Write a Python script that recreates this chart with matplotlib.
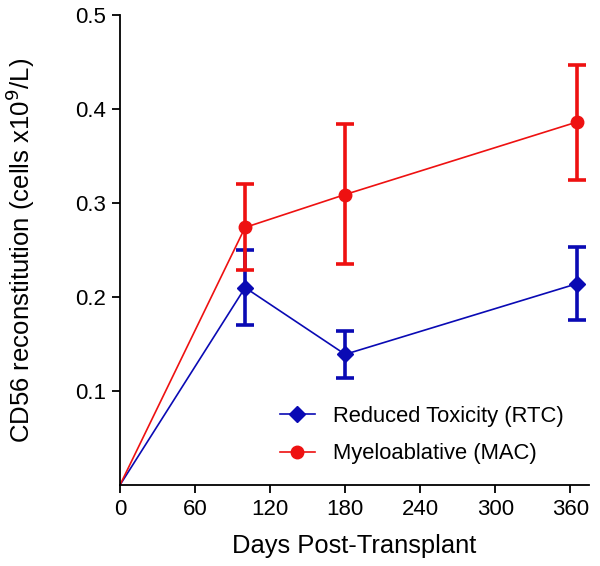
import matplotlib
matplotlib.use("Agg")
import matplotlib.pyplot as plt

days = [0, 100, 180, 365]
rtc_mean = [0.0, 0.210, 0.139, 0.214]
rtc_upper = [0.0, 0.250, 0.164, 0.253]
rtc_lower = [0.0, 0.170, 0.114, 0.176]
mac_mean = [0.0, 0.274, 0.309, 0.386]
mac_upper = [0.0, 0.320, 0.384, 0.447]
mac_lower = [0.0, 0.229, 0.235, 0.325]
xticks = [0, 60, 120, 180, 240, 300, 360]
yticks = [0.1, 0.2, 0.3, 0.4, 0.5]

plt.rcParams['font.family'] = ['Liberation Sans', 'DejaVu Sans']

fig = plt.figure(figsize=(6.0, 5.66), dpi=100)
ax = fig.add_axes([0.2, 0.1431, 0.7817, 0.8304])

blue = '#0a0ab4'
red = '#ee1111'

def plot_series(mean, up, lo, color, marker, ms, label):
    ax.plot(days, mean, color=color, lw=1.2, zorder=2)
    yerr = [[m - l for m, l in zip(mean[1:], lo[1:])], [u - m for m, u in zip(mean[1:], up[1:])]]
    ax.errorbar(days[1:], mean[1:], yerr=yerr, fmt='none', ecolor=color,
                elinewidth=2.6, capsize=6.5, capthick=2.6, zorder=3)
    ax.plot(days[1:], mean[1:], linestyle='none', marker=marker, ms=ms,
            color=color, zorder=4)
    return ax.plot([], [], color=color, lw=1.2, marker=marker, ms=ms, label=label)[0]

h1 = plot_series(rtc_mean, rtc_upper, rtc_lower, blue, 'D', 8, 'Reduced Toxicity (RTC)')
h2 = plot_series(mac_mean, mac_upper, mac_lower, red, 'o', 9, 'Myeloablative (MAC)')

ax.set_xlim(0, 375)
ax.set_ylim(0, 0.5)
ax.set_xticks(xticks)
ax.set_yticks(yticks)
ax.set_yticklabels([f'{t:.1f}' for t in yticks])
for s in ['top', 'right']:
    ax.spines[s].set_visible(False)
for s in ['left', 'bottom']:
    ax.spines[s].set_linewidth(1.3)
ax.tick_params(direction='out', length=6, width=1.3, labelsize=16, pad=4)
ax.set_xlabel('Days Post-Transplant', fontsize=18.4, labelpad=10)
ax.set_ylabel('CD56 reconstitution (cells x10$^{9}$/L)', fontsize=18.5)
ax.yaxis.set_label_coords(-0.177, 0.5)

leg = ax.legend(handles=[h1, h2], loc='center left', bbox_to_anchor=(0.341, 0.1064),
                frameon=False, fontsize=15.8, handlelength=1.6, labelspacing=0.75,
                handletextpad=0.8, borderpad=0, borderaxespad=0)

fig.savefig('out.png', dpi=100)
